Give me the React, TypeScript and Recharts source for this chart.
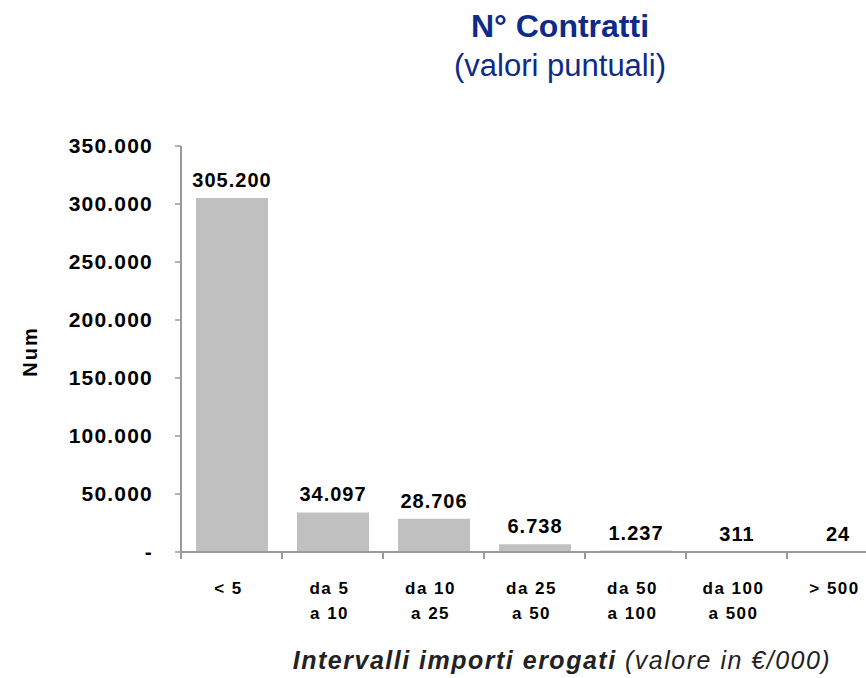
import { BarChart, Bar, XAxis, YAxis, LabelList } from "recharts";

const categories = [
  "< 5",
  "da 5\na 10",
  "da 10\na 25",
  "da 25\na 50",
  "da 50\na 100",
  "da 100\na 500",
  "> 500",
];
const contratti = [305200, 34097, 28706, 6738, 1237, 311, 24];
const yTicks = [0, 50000, 100000, 150000, 200000, 250000, 300000, 350000];

const data = categories.map((name, i) => ({ name, value: contratti[i] }));

const FONT = "'Liberation Sans', Arial, sans-serif";
const BLUE = "#0d2b87";
const AXIS = "#9a9a9a";
const CHART_W = 890;
const Y_W = 181;
const BAND = (CHART_W - 2 - Y_W) / categories.length;

function fmt(v: number) {
  if (v === 0) return "-";
  return String(v).replace(/\B(?=(\d{3})+(?!\d))/g, ".");
}

function XTick(props: any) {
  const { x, y, payload } = props;
  const lines = String(payload.value).split("\n");
  return (
    <g>
      <line x1={x - BAND / 2} x2={x - BAND / 2} y1={y} y2={y + 7} stroke={AXIS} strokeWidth={2} />
      <line x1={x + BAND / 2} x2={x + BAND / 2} y1={y} y2={y + 7} stroke={AXIS} strokeWidth={2} />
      {lines.map((l, i) => (
        <text
          key={i}
          x={x - 3}
          y={y + 42 + i * 25}
          textAnchor="middle"
          fontFamily={FONT}
          fontWeight="bold"
          fontSize={17}
          letterSpacing={1.5}
          fill="#000"
        >
          {l}
        </text>
      ))}
    </g>
  );
}

export default function App() {
  return (
    <div
      style={{
        position: "absolute",
        left: 0,
        top: 0,
        width: 866,
        height: 678,
        overflow: "hidden",
        background: "#fff",
      }}
    >
      <div
        style={{
          position: "absolute",
          left: 360,
          width: 400,
          top: 6,
          textAlign: "center",
          color: BLUE,
          fontFamily: FONT,
          lineHeight: "40px",
        }}
      >
        <div style={{ fontWeight: "bold", fontSize: 32 }}>N° Contratti</div>
        <div style={{ fontSize: 31 }}>(valori puntuali)</div>
      </div>
      <div
        style={{
          position: "absolute",
          left: 0,
          top: 340,
          width: 60,
          textAlign: "center",
          transform: "rotate(-90deg)",
          fontFamily: FONT,
          fontWeight: "bold",
          fontSize: 20,
          letterSpacing: 2,
          color: "#000",
        }}
      >
        Num
      </div>
      <div
        style={{
          position: "absolute",
          left: 262,
          width: 600,
          top: 646,
          textAlign: "center",
          fontFamily: FONT,
          fontStyle: "italic",
          fontSize: 25,
          letterSpacing: 1.5,
          color: "#222",
          whiteSpace: "nowrap",
        }}
      >
        <span style={{ fontWeight: "bold" }}>Intervalli importi erogati</span> (valore in €/000)
      </div>
      <div style={{ position: "absolute", left: 0, top: 0 }}>
        <BarChart
          width={CHART_W}
          height={678}
          data={data}
          margin={{ top: 146, right: 2, left: 0, bottom: 0 }}
        >
          <XAxis
            dataKey="name"
            height={126}
            interval={0}
            tickLine={false}
            tickSize={0}
            tickMargin={0}
            axisLine={{ stroke: AXIS, strokeWidth: 2 }}
            tick={<XTick />}
          />
          <YAxis
            width={Y_W}
            domain={[0, 350000]}
            ticks={yTicks}
            tickFormatter={fmt}
            tickSize={6}
            tickMargin={22}
            axisLine={{ stroke: AXIS, strokeWidth: 2 }}
            tickLine={{ stroke: AXIS, strokeWidth: 1.5 }}
            tick={{ fontFamily: FONT, fontWeight: "bold", fontSize: 21, letterSpacing: 1.2, fill: "#000" }}
          />
          <Bar dataKey="value" fill="#c0c0c0" barSize={72} isAnimationActive={false}>
            <LabelList
              dataKey="value"
              position="top"
              offset={11}
              formatter={(v: any) => fmt(Number(v))}
              style={{ fontFamily: FONT, fontWeight: "bold", fontSize: 20, letterSpacing: 1, fill: "#000" }}
            />
          </Bar>
        </BarChart>
      </div>
    </div>
  );
}
